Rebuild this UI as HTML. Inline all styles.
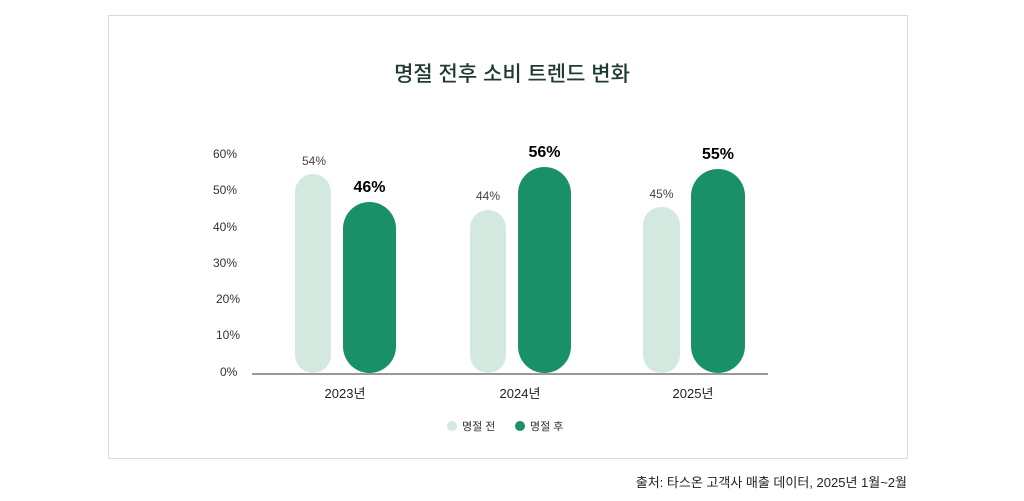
<!DOCTYPE html>
<html><head><meta charset="utf-8"><style>
body{margin:0;background:#fff;width:1024px;height:501px;overflow:hidden;font-family:"Liberation Sans","Noto Sans CJK KR",sans-serif}
.card{position:absolute;left:108px;top:15px;width:798px;height:442px;border:1px solid #d9d9d9}
.t{position:absolute;white-space:nowrap}
.bar{position:absolute}
.l{background:#d3e9e0;border-radius:18px}
.d{background:#1a9068;border-radius:27px}
.yl{position:absolute;left:213px;font-size:12px;color:#333}
</style></head><body>
<div class="card"></div>
<div class="t" style="left:0;width:1024px;text-align:center;top:58px;font-size:21px;color:#1f3b2e;font-weight:500">명절 전후 소비 트렌드 변화</div>
<div class="yl" style="top:147px">60%</div>
<div class="yl" style="top:183px">50%</div>
<div class="yl" style="top:220px">40%</div>
<div class="yl" style="top:256px">30%</div>
<div class="yl" style="top:292px;left:216px">20%</div>
<div class="yl" style="top:328px;left:216px">10%</div>
<div class="yl" style="top:365px;left:220px">0%</div>
<div style="position:absolute;left:252px;top:373px;width:516px;height:2px;background:#999"></div>
<div class="bar l" style="left:295px;top:174px;width:36px;height:199px"></div>
<div class="bar d" style="left:343px;top:202px;width:53px;height:171px"></div>
<div class="bar l" style="left:470px;top:210px;width:36px;height:163px"></div>
<div class="bar d" style="left:518px;top:167px;width:53px;height:206px"></div>
<div class="bar l" style="left:643px;top:207px;width:37px;height:166px"></div>
<div class="bar d" style="left:691px;top:169px;width:54px;height:204px"></div>
<div class="t" style="left:296px;width:36px;text-align:center;top:154px;font-size:12px;color:#444">54%</div>
<div class="t" style="left:343px;width:53px;text-align:center;top:179px;font-size:16px;font-weight:bold">46%</div>
<div class="t" style="left:470px;width:36px;text-align:center;top:189px;font-size:12px;color:#444">44%</div>
<div class="t" style="left:518px;width:53px;text-align:center;top:144px;font-size:16px;font-weight:bold">56%</div>
<div class="t" style="left:643px;width:37px;text-align:center;top:187px;font-size:12px;color:#444">45%</div>
<div class="t" style="left:691px;width:54px;text-align:center;top:146px;font-size:16px;font-weight:bold">55%</div>
<div class="t" style="left:305px;width:80px;text-align:center;top:383px;font-size:13px;color:#222">2023년</div>
<div class="t" style="left:480px;width:80px;text-align:center;top:383px;font-size:13px;color:#222">2024년</div>
<div class="t" style="left:653px;width:80px;text-align:center;top:383px;font-size:13px;color:#222">2025년</div>
<div style="position:absolute;left:447px;top:421px;width:10px;height:10px;border-radius:50%;background:#d3e9e0"></div>
<div class="t" style="left:462px;top:418px;font-size:11px;color:#333">명절 전</div>
<div style="position:absolute;left:515px;top:421px;width:10px;height:10px;border-radius:50%;background:#1a9068"></div>
<div class="t" style="left:530px;top:418px;font-size:11px;color:#333">명절 후</div>
<div class="t" style="right:117px;top:472px;font-size:13px;color:#222">출처: 타스온 고객사 매출 데이터, 2025년 1월~2월</div>
</body></html>
